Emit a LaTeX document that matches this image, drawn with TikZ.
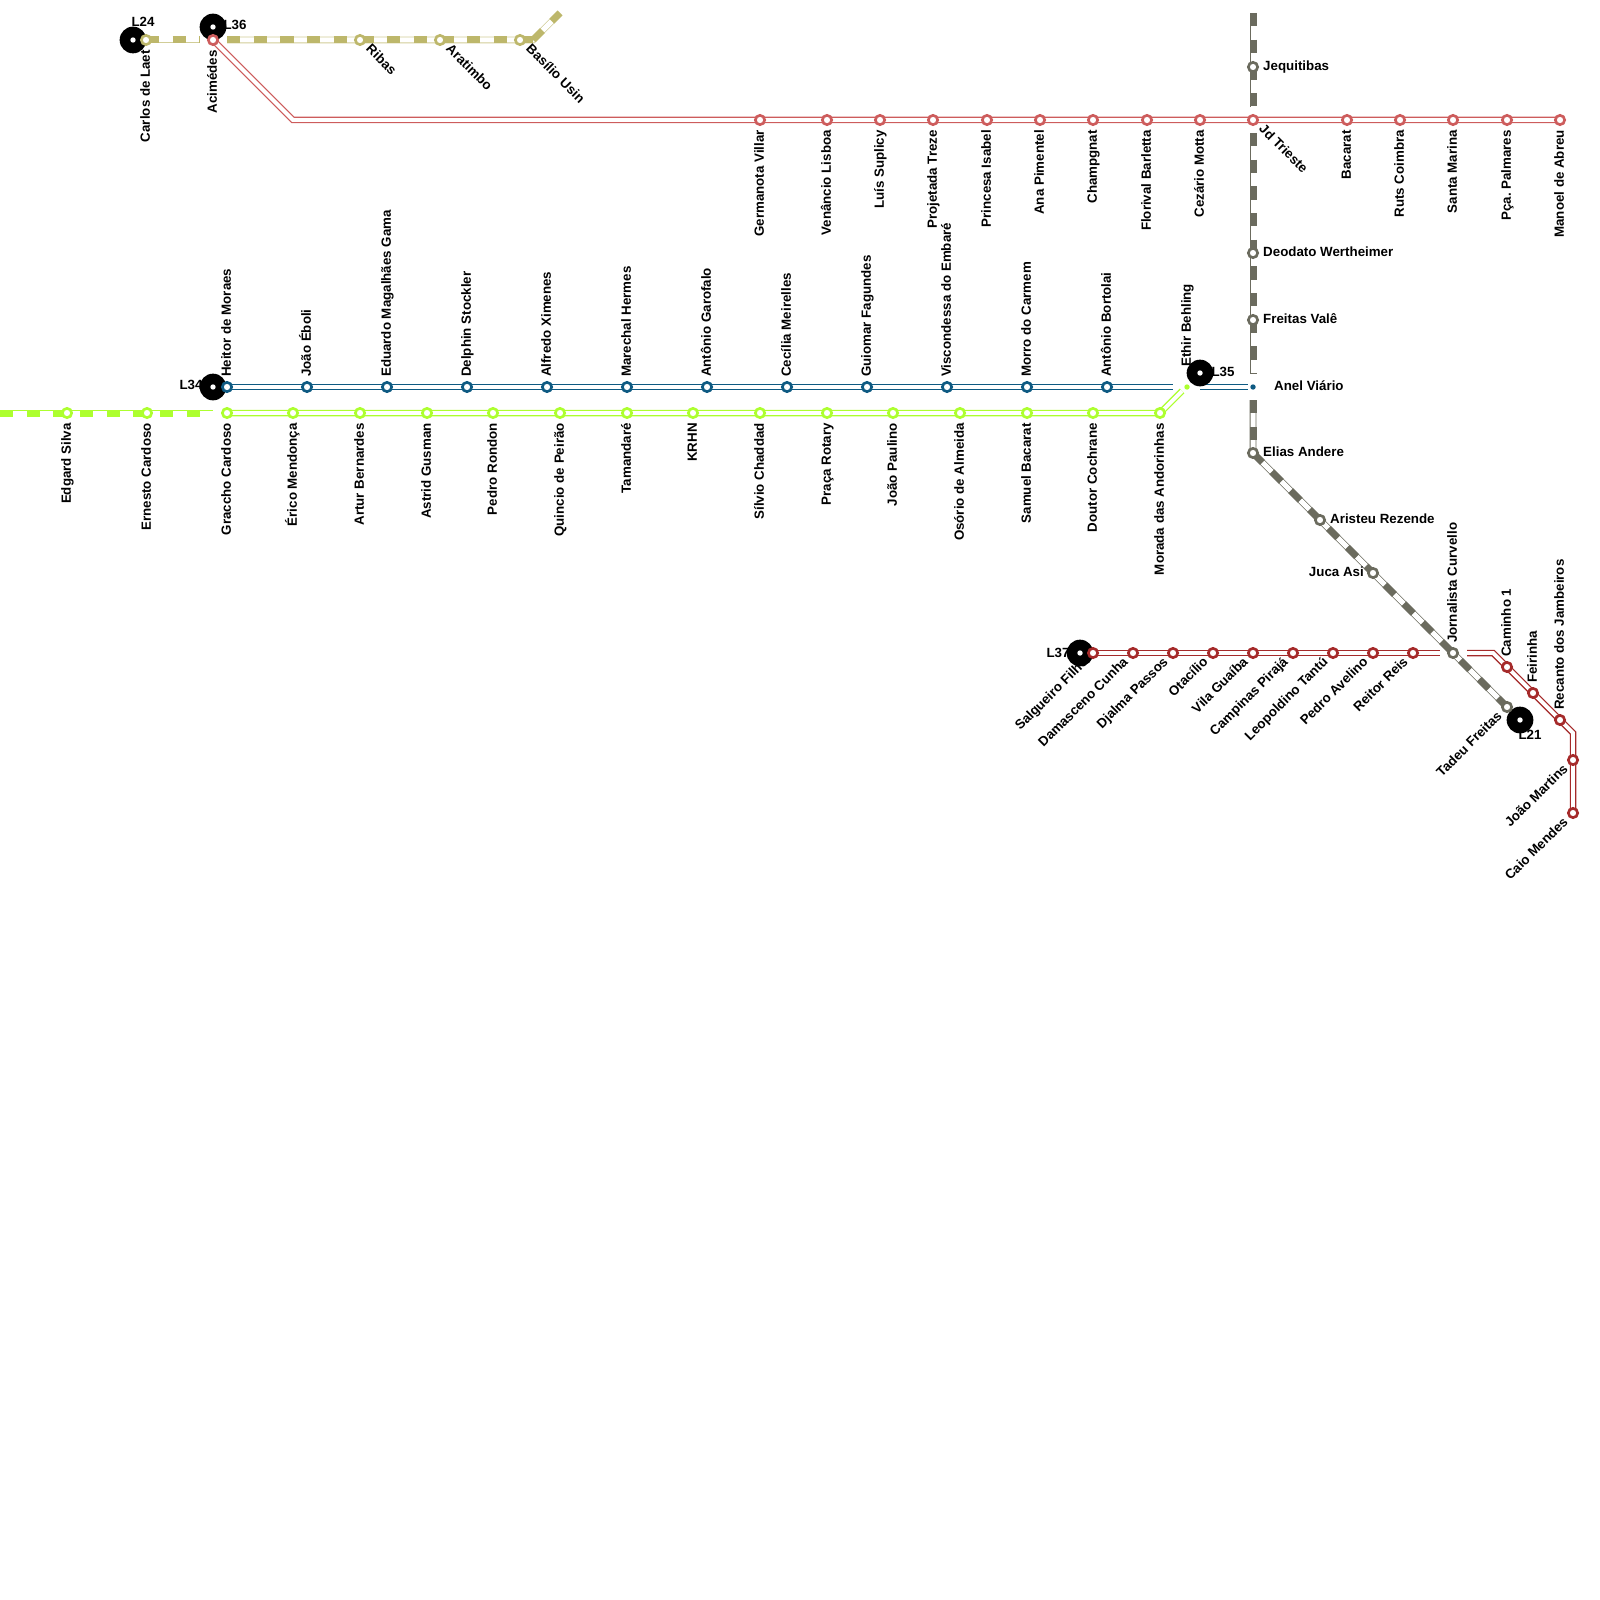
\documentclass[tikz,border=0pt]{standalone}
\usepackage{fontspec}
\setmainfont{Liberation Sans}
\frenchspacing
\usetikzlibrary{backgrounds}
\definecolor{lnOlive}{HTML}{BDB76B}
\definecolor{lnRed}{HTML}{CD5C5C}
\definecolor{lnBlue}{HTML}{0E5A82}
\definecolor{lnGreen}{HTML}{ADFF2F}
\definecolor{lnBrown}{HTML}{A52A2A}
\definecolor{lnGray}{HTML}{6B6B5E}
\tikzset{
  stn/.style={circle,draw=#1,fill=white,line width=2.67pt,minimum size=9.3pt,inner sep=0pt},
  hub/.style={circle,fill=black,minimum size=26.7pt,inner sep=0pt},
  hubdot/.style={circle,fill=white,minimum size=5.4pt,inner sep=0pt},
  lb/.style={font=\bfseries\fontsize{13.33pt}{15pt}\selectfont,inner sep=0pt,text=black,text height=9.6pt,text depth=2pt},
  up/.style={lb,rotate=90,anchor=west},
  down/.style={lb,rotate=90,anchor=east},
  dr/.style={lb,rotate=-45,anchor=west},
  dl/.style={lb,rotate=45,anchor=east},
  rt/.style={lb,anchor=west},
  dbl/.style={draw=#1,line width=1.3pt,double=white,double distance=3.9pt,line cap=butt,line join=miter},
  thindbl/.style={draw=#1,line width=0.8pt,double=white,double distance=5pt,line cap=butt,line join=miter},
  dsh/.style={draw=#1,line width=7pt,dash pattern=on 13.33pt off 13.33pt,line cap=butt,line join=miter}
}
\begin{document}
\begin{tikzpicture}[x=1pt,y=-1pt]
\useasboundingbox (0,0) rectangle (1600,1600);
% interchange hubs
\foreach \n/\x/\y in {h24/133/40,h36/213/27,h34/213/387,h35/1200/373,h37/1080/653,h21/1520/720}{
  \node[hub] (\n) at (\x,\y) {};
  \node[hubdot] (\n d) at (\x,\y) {};
}
% stations with labels
\foreach \n/\x/\t in {r1/760/Germanota Villar,r2/827/Venâncio Lisboa,r3/880/Luís Suplicy,r4/933/Projetada Treze,r5/987/Princesa Isabel,r6/1040/Ana Pimentel,r7/1093/Champgnat,r8/1147/Florival Barletta,r9/1200/Cezário Motta,r11/1347/Bacarat,r12/1400/Ruts Coimbra,r13/1453/Santa Marina,r14/1507/Pça. Palmares,r15/1560/Manoel de Abreu}{
  \node[stn=lnRed] (\n) at (\x,120) {};
  \node[down] (\n t) at (\x,130) {\t};
}
\node[stn=lnRed] (r0) at (213,40) {};
\node[down] (r0t) at (213,50) {Acimédes};
\node[stn=lnRed] (r10) at (1253,120) {};
\node[dr] (r10t) at (1261,127) {Jd Trieste};
\foreach \n/\x/\t in {b1/227/Heitor de Moraes,b2/307/João Éboli,b3/387/Eduardo Magalhães Gama,b4/467/Delphin Stockler,b5/547/Alfredo Ximenes,b6/627/Marechal Hermes,b7/707/Antônio Garofalo,b8/787/Cecília Meirelles,b9/867/Guiomar Fagundes,b10/947/Viscondessa do Embaré,b11/1027/Morro do Carmem,b12/1107/Antônio Bortolai}{
  \node[stn=lnBlue] (\n) at (\x,387) {};
  \node[up] (\n t) at (\x,377) {\t};
}
\foreach \n/\x/\t in {g1/67/Edgard Silva,g2/147/Ernesto Cardoso,g3/227/Graccho Cardoso,g4/293/Érico Mendonça,g5/360/Artur Bernardes,g6/427/Astrid Gusman,g7/493/Pedro Rondon,g8/560/Quincio de Peirão,g9/627/Tamandaré,g10/693/KRHN,g11/760/Sílvio Chaddad,g12/827/Praça Rotary,g13/893/João Paulino,g14/960/Osório de Almeida,g15/1027/Samuel Bacarat,g16/1093/Doutor Cochrane,g17/1160/Morada das Andorinhas}{
  \node[stn=lnGreen] (\n) at (\x,413) {};
  \node[down] (\n t) at (\x,423) {\t};
}
\foreach \n/\x/\t in {br1/1093/Salgueiro Filho,br2/1133/Damasceno Cunha,br3/1173/Djalma Passos,br4/1213/Otacílio,br5/1253/Vila Guaíba,br6/1293/Campinas Pirajá,br7/1333/Leopoldino Tantú,br8/1373/Pedro Avelino,br9/1413/Reitor Reis}{
  \node[stn=lnBrown] (\n) at (\x,653) {};
  \node[dl] (\n t) at (\x-7,660) {\t};
}
\node[stn=lnBrown] (br10) at (1507,667) {};
\node[up] (br10t) at (1507,657) {Caminho 1};
\node[stn=lnBrown] (br11) at (1533,693) {};
\node[up] (br11t) at (1533,683) {Feirinha};
\node[stn=lnBrown] (br12) at (1560,720) {};
\node[up] (br12t) at (1560,710) {Recanto dos Jambeiros};
\node[stn=lnBrown] (br13) at (1573,760) {};
\node[dl] (br13t) at (1566,767) {João Martins};
\node[stn=lnBrown] (br14) at (1573,813) {};
\node[dl] (br14t) at (1566,820) {Caio Mendes};
% olive stations
\node[stn=lnOlive] (o1) at (146,40) {};
\node[down] (o1t) at (146,50) {Carlos de Laet};
\node[stn=lnOlive] (o2) at (360,40) {};
\node[dr] (o2t) at (368,47) {Ribas};
\node[stn=lnOlive] (o3) at (440,40) {};
\node[dr] (o3t) at (448,47) {Aratimbo};
\node[stn=lnOlive] (o4) at (520,40) {};
\node[dr] (o4t) at (528,47) {Basílio Usin};
% gray stations
\node[stn=lnGray] (k1) at (1253,67) {};
\node[rt] (k1t) at (1263,67) {Jequitibas};
\node[stn=lnGray] (k2) at (1253,253) {};
\node[rt] (k2t) at (1263,253) {Deodato Wertheimer};
\node[stn=lnGray] (k3) at (1253,320) {};
\node[rt] (k3t) at (1263,320) {Freitas Valê};
\node[stn=lnGray] (k4) at (1253,453) {};
\node[rt] (k4t) at (1263,453) {Elias Andere};
\node[stn=lnGray] (k5) at (1320,520) {};
\node[rt] (k5t) at (1330,520) {Aristeu Rezende};
\node[stn=lnGray] (k6) at (1373,573) {};
\node[lb,anchor=east] (k6t) at (1364,573) {Juca Asi};
\node[stn=lnGray] (k7) at (1453,653) {};
\node[up] (k7t) at (1453,643) {Jornalista Curvello};
\node[stn=lnGray] (k8) at (1507,707) {};
\node[dl] (k8t) at (1500,714) {Tadeu Freitas};
% small end dots
\node[circle,fill=lnBlue,minimum size=5.4pt,inner sep=0pt] (av) at (1253,387) {};
\node[rt] (avt) at (1274,387) {Anel Viário};
\node[circle,fill=lnGreen,minimum size=5.4pt,inner sep=0pt] (gd) at (1187,387) {};
\node[up] (gdt) at (1187,367) {Ethir Behling};
% hub labels
\node[lb] (l24) at (143,23) {L24};
\node[lb] (l36) at (235,26) {L36};
\node[lb] (l34) at (191,386) {L34};
\node[lb] (l35) at (1223,373) {L35};
\node[lb] (l37) at (1058,654) {L37};
\node[lb] (l21) at (1530,736) {L21};
% free ends
\coordinate (oa) at (200,40);
\coordinate (ob) at (227,40);
\coordinate (oc) at (533,40);
\coordinate (od) at (560,13);
\coordinate (rb) at (293,120);
\coordinate (ba) at (213,387);
\coordinate (bb) at (1173,387);
\coordinate (bc) at (1200,387);
\coordinate (bd) at (1248,387);
\coordinate (ga) at (0,413);
\coordinate (gb) at (200,413);
\coordinate (gc) at (213,413);
\coordinate (gd2) at (1182,391);
\coordinate (wa) at (1440,653);
\coordinate (wb) at (1467,653);
\coordinate (wc) at (1493,653);
\coordinate (wd) at (1573,733);
\coordinate (ka) at (1253,13);
\coordinate (kb) at (1253,107);
\coordinate (kc) at (1253,133);
\coordinate (kd) at (1253,373);
\coordinate (ke) at (1253,400);
% lines
\begin{pgfonlayer}{background}
\draw[thindbl=lnOlive!70!white] (o1.center) -- (oa);
\draw[dsh=lnOlive] (o1.center) -- (oa);
\draw[thindbl=lnOlive!70!white] (ob) -- (oc) -- (od);
\draw[dsh=lnOlive] (ob) -- (oc);
\draw[dsh=lnOlive] (oc) -- (od);
\draw[dbl=lnRed] (r0.center) -- (rb) -- (r15.center);
\draw[dbl=lnBlue] (ba) -- (bb);
\draw[dbl=lnBlue] (bc) -- (bd);
\draw[thindbl=lnGreen] (ga) -- (gc);
\draw[dsh=lnGreen] (ga) -- (gb);
\draw[dbl=lnGreen] (g3.center) -- (g17.center) -- (gd2);
\draw[dbl=lnBrown] (br1.center) -- (wa);
\draw[dbl=lnBrown] (wb) -- (wc) -- (wd) -- (br14.center);
\draw[thindbl=lnGray] (ka) -- (kb);
\draw[dsh=lnGray] (ka) -- (kb);
\draw[thindbl=lnGray] (kc) -- (kd);
\draw[dsh=lnGray] (kc) -- (kd);
\draw[thindbl=lnGray] (ke) -- (k4.center) -- (k8.center);
\draw[dsh=lnGray] (ke) -- (k4.center);
\draw[dsh=lnGray] (k4.center) -- (k8.center);
\end{pgfonlayer}
\end{tikzpicture}
\end{document}
